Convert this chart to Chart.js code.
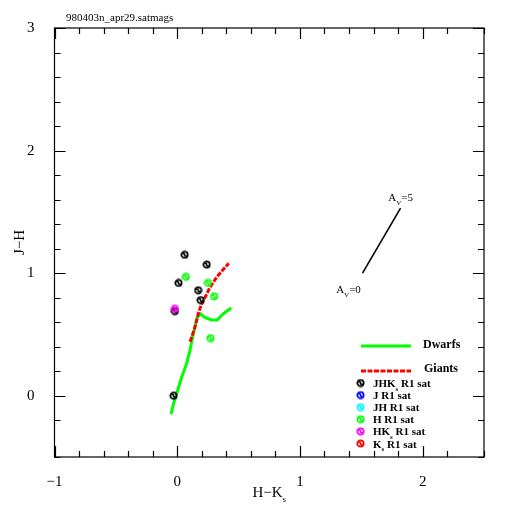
<!DOCTYPE html>
<html>
<head>
<meta charset="utf-8">
<script src="https://cdn.jsdelivr.net/npm/chart.js@4/dist/chart.umd.min.js"></script>
<style>
  html, body { margin: 0; padding: 0; background: #fff; }
  canvas { display: block; }
</style>
</head>
<body>
<canvas id="ccd" width="512" height="512"></canvas>
<script>
// H-Ks vs J-H colour-colour data
const jhk_hk = [0.06, 0.24, 0.01, 0.17, 0.19, -0.02, -0.03];
const jhk_jh = [1.15, 1.07, 0.92, 0.86, 0.78, 0.69, 0.00];
const h_hk = [0.07, 0.25, 0.30, 0.27];
const h_jh = [0.97, 0.92, 0.81, 0.47];
const hks_hk = [-0.02];
const hks_jh = [0.71];

const dwarfs_hk = [-0.05, -0.03, -0.005, 0.036, 0.076, 0.103, 0.125, 0.144, 0.163, 0.19, 0.226, 0.28, 0.326, 0.36, 0.40, 0.44];
const dwarfs_jh = [-0.15, -0.065, 0.016, 0.151, 0.26, 0.368, 0.476, 0.558, 0.639, 0.667, 0.639, 0.618, 0.618, 0.653, 0.688, 0.715];
const giants_hk = [0.105, 0.144, 0.171, 0.193, 0.226, 0.266, 0.32, 0.37, 0.42];
const giants_jh = [0.44, 0.558, 0.667, 0.734, 0.80, 0.883, 0.965, 1.024, 1.08];

const redvec_hk = [1.51, 1.82];
const redvec_jh = [1.00, 1.53];
const redvec_labels = ['0', '5'];

const legend_rows = [
  { color: '#000000', parts: [['JHK', 0], ['s', 1], [' R1 sat', 0]] },
  { color: '#0000ff', parts: [['J R1 sat', 0]] },
  { color: '#00ffff', parts: [['JH R1 sat', 0]] },
  { color: '#00ff00', parts: [['H R1 sat', 0]] },
  { color: '#ff00ff', parts: [['HK', 0], ['s', 1], [' R1 sat', 0]] },
  { color: '#ff0000', parts: [['K', 0], ['s', 1], [' R1 sat', 0]] }
];

const FONT = '"Liberation Serif", "DejaVu Serif", serif';

function pts(xs, ys) {
  return xs.map((x, i) => ({ x: x, y: ys[i] }));
}

// little pgplot-ish marker: circle with a stroke through it
function makeMarker(color) {
  const c = document.createElement('canvas');
  c.width = 9; c.height = 9;
  const g = c.getContext('2d');
  g.strokeStyle = color;
  g.lineWidth = 1.7;
  g.beginPath();
  g.arc(4.5, 4.5, 3.2, 0, Math.PI * 2);
  g.stroke();
  g.beginPath();
  g.moveTo(2.2, 3.6);
  g.quadraticCurveTo(4.5, 2.5, 4.5, 4.5);
  g.quadraticCurveTo(4.5, 6.5, 6.8, 5.4);
  g.stroke();
  return c;
}

// text with subscripts, parts = [[text, isSub], ...]
function drawParts(ctx, parts, x, y, size, weight, align) {
  const full = size + 'px ' + FONT;
  const small = Math.round(size * 0.6) + 'px ' + FONT;
  let w = 0;
  parts.forEach(p => {
    ctx.font = (weight || '') + ' ' + (p[1] ? small : full);
    w += ctx.measureText(p[0]).width;
  });
  let cx = align === 'center' ? x - w / 2 : x;
  ctx.textBaseline = 'alphabetic';
  ctx.textAlign = 'left';
  parts.forEach(p => {
    ctx.font = (weight || '') + ' ' + (p[1] ? small : full);
    ctx.fillText(p[0], cx, y + (p[1] ? size * 0.35 : 0));
    cx += ctx.measureText(p[0]).width;
  });
}

const isMajor = v => Math.abs(v - Math.round(v)) < 1e-6;

const framePlugin = {
  id: 'frame',
  afterDraw(chart) {
    const ctx = chart.ctx;
    const a = chart.chartArea;
    const xs = chart.scales.x, ys = chart.scales.y;
    ctx.save();
    ctx.strokeStyle = '#000';
    ctx.lineWidth = 1.2;
    ctx.strokeRect(a.left, a.top, a.right - a.left, a.bottom - a.top);
    ctx.beginPath();
    xs.ticks.forEach(t => {
      const px = Math.round(xs.getPixelForValue(t.value)) + 0.5;
      const len = isMajor(t.value) ? 11 : 6;
      ctx.moveTo(px, a.bottom); ctx.lineTo(px, a.bottom - len);
      ctx.moveTo(px, a.top); ctx.lineTo(px, a.top + len);
    });
    ys.ticks.forEach(t => {
      const py = Math.round(ys.getPixelForValue(t.value)) + 0.5;
      const len = isMajor(t.value) ? 11 : 6;
      ctx.moveTo(a.left, py); ctx.lineTo(a.left + len, py);
      ctx.moveTo(a.right, py); ctx.lineTo(a.right - len, py);
    });
    ctx.stroke();

    ctx.fillStyle = '#000';
    // title
    drawParts(ctx, [['980403n_apr29.satmags', 0]], 66, 21, 11, '');
    // axis titles
    drawParts(ctx, [['H\u2212K', 0], ['s', 1]], (a.left + a.right) / 2, 497, 15, '', 'center');
    ctx.save();
    ctx.translate(24, (a.top + a.bottom) / 2);
    ctx.rotate(-Math.PI / 2);
    drawParts(ctx, [['J\u2212H', 0]], 0, 0, 15, '', 'center');
    ctx.restore();

    // reddening vector labels
    const p0x = xs.getPixelForValue(redvec_hk[0]), p0y = ys.getPixelForValue(redvec_jh[0]);
    const p1x = xs.getPixelForValue(redvec_hk[1]), p1y = ys.getPixelForValue(redvec_jh[1]);
    drawParts(ctx, [['A', 0], ['V', 1], ['=' + redvec_labels[0], 0]], p0x - 14, p0y + 20, 11, '', 'center');
    drawParts(ctx, [['A', 0], ['V', 1], ['=' + redvec_labels[1], 0]], p1x, p1y - 7, 11, '', 'center');

    // legend
    ctx.lineWidth = 3;
    ctx.strokeStyle = '#00ff00';
    ctx.beginPath(); ctx.moveTo(361, 346); ctx.lineTo(411, 346); ctx.stroke();
    ctx.strokeStyle = '#ff0000';
    ctx.setLineDash([5, 1.5]);
    ctx.beginPath(); ctx.moveTo(361, 371); ctx.lineTo(411, 371); ctx.stroke();
    ctx.setLineDash([]);
    ctx.fillStyle = '#000';
    drawParts(ctx, [['Dwarfs', 0]], 423, 348, 12, 'bold');
    drawParts(ctx, [['Giants', 0]], 424, 372, 12, 'bold');
    legend_rows.forEach((r, i) => {
      const y = 383 + i * 12.1;
      ctx.drawImage(makeMarker(r.color), 356, y - 4.5);
      ctx.fillStyle = '#000';
      drawParts(ctx, r.parts, 373, y + 4, 11, 'bold');
    });
    ctx.restore();
  }
};

const tickLabel = v => isMajor(v) ? String(Math.round(v)).replace('-', '\u2212') : '';

// lower dataset index is drawn on top
new Chart(document.getElementById('ccd'), {
  type: 'scatter',
  data: {
    datasets: [
      { label: 'HKs R1 sat', data: pts(hks_hk, hks_jh), pointStyle: makeMarker('#ff00ff'), pointRadius: 4.5 },
      { label: 'JHKs R1 sat', data: pts(jhk_hk, jhk_jh), pointStyle: makeMarker('#000000'), pointRadius: 4.5 },
      { label: 'H R1 sat', data: pts(h_hk, h_jh), pointStyle: makeMarker('#00ff00'), pointRadius: 4.5 },
      { label: 'Giants', data: pts(giants_hk, giants_jh), showLine: true, borderColor: '#ff0000',
        borderWidth: 3, borderDash: [5, 1.5], pointRadius: 0, fill: false, tension: 0 },
      { label: 'Dwarfs', data: pts(dwarfs_hk, dwarfs_jh), showLine: true, borderColor: '#00ff00',
        borderWidth: 3, pointRadius: 0, fill: false, tension: 0 },
      { label: 'Av', data: pts(redvec_hk, redvec_jh), showLine: true, borderColor: '#000000',
        borderWidth: 1.6, pointRadius: 0, fill: false }
    ]
  },
  options: {
    responsive: false,
    animation: false,
    devicePixelRatio: 1,
    layout: { padding: { top: 28, right: 28, left: 0, bottom: 0 } },
    plugins: { legend: { display: false }, tooltip: { enabled: false } },
    scales: {
      x: {
        type: 'linear', min: -1, max: 2.5,
        grid: { display: false },
        border: { display: false },
        ticks: { stepSize: 0.2, autoSkip: false, maxRotation: 0, padding: 8, color: '#000',
          font: { family: FONT, size: 15 }, callback: tickLabel },
        afterFit: s => { s.height = 55; }
      },
      y: {
        type: 'linear', min: -0.5, max: 3,
        grid: { display: false },
        border: { display: false },
        ticks: { stepSize: 0.2, autoSkip: false, padding: 12, color: '#000',
          font: { family: FONT, size: 15 }, callback: tickLabel },
        afterFit: s => { s.width = 54.5; }
      }
    }
  },
  plugins: [framePlugin]
});
</script>
</body>
</html>
